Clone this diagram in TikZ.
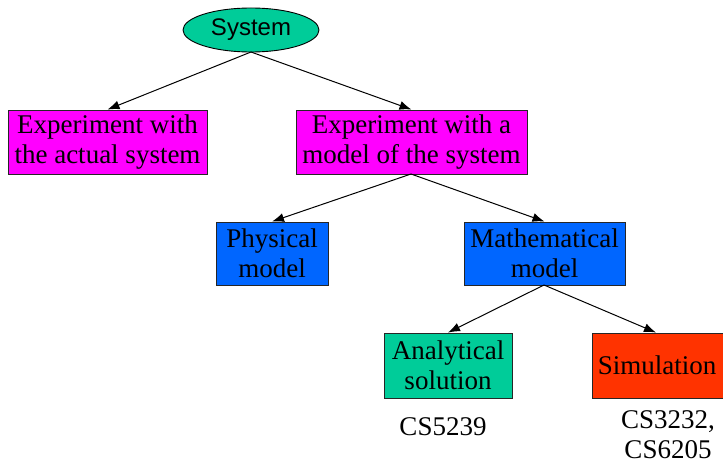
\documentclass[tikz,border=0pt]{standalone}
\usepackage{fontspec}
\setmainfont{Liberation Serif}
\newfontfamily\arialfont{Liberation Sans}
\usetikzlibrary{shapes.geometric,arrows.meta}
\definecolor{cgreen}{RGB}{0,204,153}
\definecolor{cmag}{RGB}{255,0,255}
\definecolor{cblue}{RGB}{0,102,255}
\definecolor{cred}{RGB}{255,51,0}
\begin{document}
\begin{tikzpicture}[x=1pt,y=-1pt,
  box/.style={draw=black!85, line width=0.9pt, minimum height=64pt, inner sep=0pt, align=center,
     font=\fontsize{27}{30}\selectfont},
  conn/.style={draw=black, line width=1pt, -{Latex[length=12pt,width=9pt]}},
  lbl/.style={align=center, font=\fontsize{27}{30}\selectfont}]
\useasboundingbox (0,0) rectangle (723,465);
\node[ellipse, draw=black, line width=0.9pt, fill=cgreen, minimum width=136pt, minimum height=44pt, inner sep=0pt,
  font=\arialfont\fontsize{24}{26}\selectfont] (sys) at (251,30) {System};
\node[box, fill=cmag, minimum width=199pt] (act) at (107.5,142) {Experiment with\\the actual system};
\node[box, fill=cmag, minimum width=231pt] (mod) at (411.5,142) {Experiment with a\\model of the system};
\node[box, fill=cblue, minimum width=112pt, minimum height=63pt] (phy) at (272,253.5) {Physical\\model};
\node[box, fill=cblue, minimum width=161pt, minimum height=63pt] (mat) at (544.5,253.5) {Mathematical\\model};
\node[box, fill=cgreen, minimum width=128pt, minimum height=65pt] (ana) at (448,365.5) {Analytical\\solution};
\node[box, fill=cred, minimum width=140pt, minimum height=65pt] (sim) at (662,365.5) {\hspace*{-10pt}Simulation};
\node[lbl] (c1) at (443,427) {CS5239};
\node[lbl] (c2) at (668,435) {CS3232,\\CS6205};
\coordinate (sysb) at (251,52);
\coordinate (modb) at (411,174);
\coordinate (matb) at (544,285);
\draw[conn] (sysb) -- (act.north);
\draw[conn] (sysb) -- (mod.north);
\draw[conn] (modb) -- (phy.north);
\draw[conn] (modb) -- (mat.north);
\draw[conn] (matb) -- (ana.north);
\draw[conn] (matb) -- ([xshift=-6pt]sim.north);
\end{tikzpicture}
\end{document}
